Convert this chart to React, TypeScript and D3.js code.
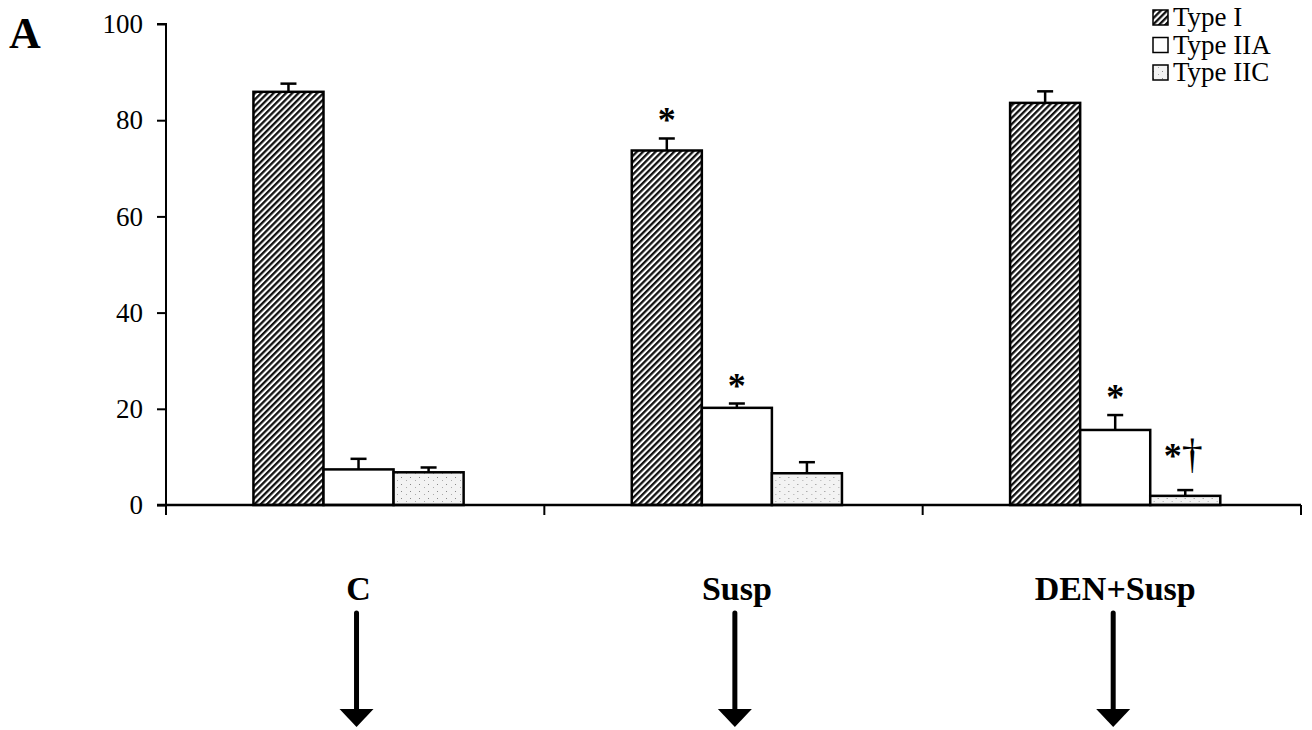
import { useEffect, useRef } from "react";
import * as d3 from "d3";

// Fibre type distribution (%), mean and SE
const categories = ["C", "Susp", "DEN+Susp"];
const seriesNames = ["Type I", "Type IIA", "Type IIC"];
const typeI = [85.9, 73.7, 83.6];
const typeIIA = [7.4, 20.2, 15.6];
const typeIIC = [6.8, 6.6, 1.9];
const typeISE = [1.7, 2.5, 2.4];
const typeIIASE = [2.2, 0.9, 3.1];
const typeIICSE = [1.0, 2.3, 1.2];
const yTicks = [0, 20, 40, 60, 80, 100];
// significance marks: [category index, series index, label]
const marks: [number, number, string][] = [
  [1, 0, "*"],
  [1, 1, "*"],
  [2, 1, "*"],
  [2, 2, "*\u2020"],
];

const W = 1312;
const H = 730;
const FONT = "'Liberation Serif', 'Times New Roman', serif";

export default function App() {
  const ref = useRef<SVGSVGElement>(null);

  useEffect(() => {
    if (!ref.current) return;
    const svg = d3.select(ref.current);
    svg.selectAll("*").remove();

    const values = [typeI, typeIIA, typeIIC];
    const errs = [typeISE, typeIIASE, typeIICSE];

    const y = d3.scaleLinear().domain([0, 100]).range([505, 24]);
    const x0 = d3.scaleBand<string>().domain(categories).range([166, 1301]).padding(0);
    const x1 = d3
      .scaleBand<string>()
      .domain(seriesNames)
      .range([0, x0.bandwidth()])
      .paddingInner(0)
      .paddingOuter(1.2)
      .align(0.52);

    const defs = svg.append("defs");
    const hatch = defs
      .append("pattern")
      .attr("id", "hatch")
      .attr("patternUnits", "userSpaceOnUse")
      .attr("width", 4.4)
      .attr("height", 4.4)
      .attr("patternTransform", "rotate(45)");
    hatch.append("rect").attr("width", 4.4).attr("height", 4.4).attr("fill", "#fff");
    hatch.append("line").attr("x1", 1.1).attr("y1", 0).attr("x2", 1.1).attr("y2", 4.4)
      .attr("stroke", "#111").attr("stroke-width", 2.4);

    const dots = defs
      .append("pattern")
      .attr("id", "dots")
      .attr("patternUnits", "userSpaceOnUse")
      .attr("width", 9)
      .attr("height", 7);
    dots.append("rect").attr("width", 9).attr("height", 7).attr("fill", "#f3f3f3");
    dots.append("rect").attr("x", 1).attr("y", 1).attr("width", 1).attr("height", 1).attr("fill", "#888");
    dots.append("rect").attr("x", 6).attr("y", 4).attr("width", 1).attr("height", 1).attr("fill", "#aaa");

    const fills = ["url(#hatch)", "#fff", "url(#dots)"];

    // bars
    categories.forEach((c, ci) => {
      const g = svg.append("g").attr("transform", `translate(${x0(c)},0)`);
      seriesNames.forEach((s, si) => {
        const v = values[si][ci];
        const top = y(v + errs[si][ci]);
        const cx = (x1(s) ?? 0) + x1.bandwidth() / 2;
        g.append("line")
          .attr("x1", cx).attr("x2", cx)
          .attr("y1", y(v)).attr("y2", top)
          .attr("stroke", "#000").attr("stroke-width", 2.5);
        g.append("line")
          .attr("x1", cx - 8).attr("x2", cx + 8)
          .attr("y1", top).attr("y2", top)
          .attr("stroke", "#000").attr("stroke-width", 2.5);
        g.append("rect")
          .attr("x", x1(s) ?? 0)
          .attr("y", y(v))
          .attr("width", x1.bandwidth())
          .attr("height", y(0) - y(v))
          .attr("fill", fills[si])
          .attr("stroke", "#000")
          .attr("stroke-width", 2.5);
      });
    });

    // significance marks
    marks.forEach(([ci, si, label]) => {
      const v = values[si][ci] + errs[si][ci];
      const cx = (x0(categories[ci]) ?? 0) + (x1(seriesNames[si]) ?? 0) + x1.bandwidth() / 2;
      const t = svg.append("text")
        .attr("text-anchor", "middle")
        .attr("font-family", FONT)
        .attr("font-size", 36);
      if (label.length > 1) {
        t.attr("x", cx - 2).attr("y", y(v) - 22);
        t.append("tspan").attr("font-weight", "bold").text(label[0]);
        t.append("tspan").attr("font-size", 42).text(label.slice(1));
      } else {
        t.attr("x", cx).attr("y", y(v) - 6).attr("font-weight", "bold").text(label);
      }
    });

    // y axis
    const yAxis = svg.append("g").attr("transform", "translate(166,0)")
      .call(d3.axisLeft(y).tickValues(yTicks).tickSize(9).tickPadding(14));
    yAxis.select(".domain").attr("d", `M-9,${y(100)}H0V${y(0) + 10}`).attr("stroke-width", 2);
    yAxis.selectAll(".tick line").attr("stroke-width", 2);
    yAxis.selectAll("text").attr("font-family", FONT).attr("font-size", 27).attr("fill", "#000");

    // x axis
    const xAxis = svg.append("g").attr("transform", `translate(0,${y(0)})`);
    xAxis.append("line").attr("x1", 157).attr("x2", 1301).attr("y1", 0).attr("y2", 0)
      .attr("stroke", "#000").attr("stroke-width", 2.5);
    categories.forEach((c) => {
      const xe = (x0(c) ?? 0) + x0.bandwidth();
      xAxis.append("line").attr("x1", xe).attr("x2", xe).attr("y1", 0).attr("y2", 10)
        .attr("stroke", "#000").attr("stroke-width", 2);
    });

    // category labels and arrows
    categories.forEach((c) => {
      const cx = (x0(c) ?? 0) + (x1(seriesNames[1]) ?? 0) + x1.bandwidth() / 2;
      svg.append("text")
        .attr("x", cx).attr("y", 600)
        .attr("text-anchor", "middle")
        .attr("font-family", FONT)
        .attr("font-weight", "bold")
        .attr("font-size", 34)
        .text(c);
      svg.append("line")
        .attr("x1", cx - 2).attr("x2", cx - 2).attr("y1", 613).attr("y2", 712)
        .attr("stroke", "#000").attr("stroke-width", 5).attr("stroke-linecap", "round");
      svg.append("path")
        .attr("d", `M${cx - 19},709L${cx + 15},709L${cx - 2},727Z`)
        .attr("fill", "#000");
    });

    // legend
    seriesNames.forEach((s, i) => {
      const ly = 17 + i * 27.5;
      svg.append("rect")
        .attr("x", 1153).attr("y", ly - 7).attr("width", 15).attr("height", 15)
        .attr("fill", fills[i]).attr("stroke", "#000").attr("stroke-width", 1.5);
      svg.append("text")
        .attr("x", 1173).attr("y", ly + 9)
        .attr("font-family", FONT)
        .attr("font-size", 27)
        .text(s);
    });

    // panel letter
    svg.append("text")
      .attr("x", 9).attr("y", 48)
      .attr("font-family", FONT)
      .attr("font-weight", "bold")
      .attr("font-size", 44)
      .text("A");
  }, []);

  return (
    <svg
      ref={ref}
      width={W}
      height={H}
      style={{ position: "absolute", left: 0, top: 0, background: "#fff" }}
    />
  );
}
